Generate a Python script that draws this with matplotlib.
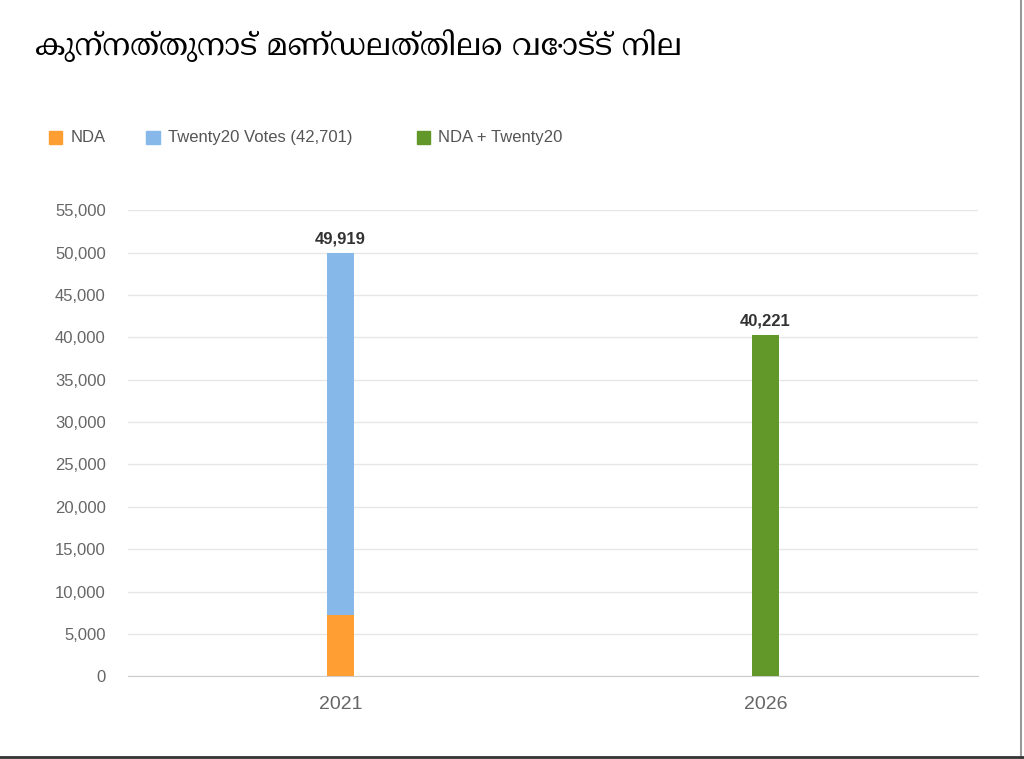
import matplotlib
matplotlib.use("Agg")
import matplotlib.pyplot as plt
from matplotlib import font_manager as fm

years = ["2021", "2026"]
nda = [7218, 0]
twenty20 = [42701, 0]
combined = [0, 40221]
totals = ["49,919", "40,221"]
yticks = list(range(0, 55001, 5000))

fams = [f.name for f in fm.fontManager.ttflist]
mal = [n for n in set(fams) if "Malayalam" in n]
plt.rcParams['font.family'] = mal + ['Noto Sans', 'DejaVu Sans'] if mal else ['Noto Sans', 'DejaVu Sans']

fig = plt.figure(figsize=(10.24, 7.59), dpi=100)
ax = fig.add_axes([0.125, 0.109, 0.83, 0.614])
x = [0, 1]
w = 0.064
ax.bar(x, nda, w, color="#FF9F33", zorder=3)
ax.bar(x, twenty20, w, bottom=nda, color="#86B9EA", zorder=3)
ax.bar(x, combined, w, color="#62972A", zorder=3)
tops = [nda[i] + twenty20[i] + combined[i] for i in range(2)]
for i in range(2):
    ax.text(x[i], tops[i] + 800, totals[i], ha="center", va="bottom",
            fontsize=12, fontweight="bold", color="#333333", family=['Liberation Sans', 'DejaVu Sans'])
ax.set_xlim(-0.5, 1.5)
ax.set_ylim(0, 55000)
ax.set_yticks(yticks)
ax.set_yticklabels([f"{v:,}" for v in yticks], family=['Liberation Sans', 'DejaVu Sans'])
ax.set_xticks(x)
ax.set_xticklabels(years, family=['Liberation Sans', 'DejaVu Sans'])
ax.tick_params(axis="y", length=0, labelsize=12, labelcolor="#666666", pad=16)
ax.tick_params(axis="x", length=0, labelsize=14, labelcolor="#666666", pad=14)
ax.grid(axis="y", color="#E6E6E6", lw=1, zorder=0)
for s in ["top", "right", "left"]:
    ax.spines[s].set_visible(False)
ax.spines["bottom"].set_color("#CCCCCC")

fig.text(0.034, 0.94, "കുന്നത്തുനാട് മണ്ഡലത്തിലെ വോട്ട് നില", fontsize=22,
         fontweight="bold", va="center", ha="left")

leg = [("NDA", "#FF9F33", 0.048), ("Twenty20 Votes (42,701)", "#86B9EA", 0.143), ("NDA + Twenty20", "#62972A", 0.407)]
for lab, c, xx in leg:
    fig.patches.append(plt.Rectangle((xx, 0.810), 0.013, 0.018, transform=fig.transFigure, color=c))
    fig.text(xx + 0.021, 0.819, lab, fontsize=12, color="#555555", va="center",
             family=['Liberation Sans', 'DejaVu Sans'])

fig.add_artist(plt.Line2D([0.997, 0.997], [0, 1], color="#999999", lw=1.5, transform=fig.transFigure))
fig.add_artist(plt.Line2D([0, 1], [0.003, 0.003], color="#333333", lw=2, transform=fig.transFigure))
fig.savefig("out.png", dpi=100)
